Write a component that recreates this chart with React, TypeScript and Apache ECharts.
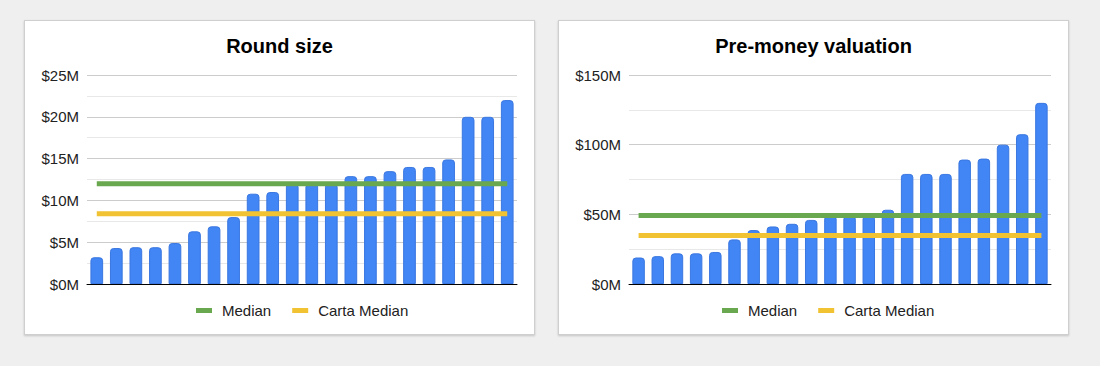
import React, { useEffect, useRef } from "react";
import * as echarts from "echarts";

const FONT = "Arial, 'Liberation Sans', Helvetica, sans-serif";

// Round size ($M), sorted ascending
const roundCategories = ["1","2","3","4","5","6","7","8","9","10","11","12","13","14","15","16","17","18","19","20","21","22"];
const roundSize = [3.2, 4.3, 4.4, 4.4, 4.9, 6.3, 6.9, 8.0, 10.8, 11.0, 12.0, 12.0, 12.0, 12.9, 12.9, 13.5, 14.0, 14.0, 14.9, 20, 20, 22];
const roundMedian = 12;
const roundCartaMedian = 8.4;

// Pre-money valuation ($M), sorted ascending
const preCategories = ["1","2","3","4","5","6","7","8","9","10","11","12","13","14","15","16","17","18","19","20","21","22"];
const preMoney = [19, 20, 22, 22, 23, 32, 38.7, 41.3, 43.2, 46, 49, 49, 49, 53.3, 79, 79, 79, 89.3, 90, 100, 107.5, 130];
const preMedian = 49.2;
const preCartaMedian = 34.8;

const legendNames = ["Median", "Carta Median"];

type Cfg = {
  title: string;
  categories: string[];
  values: number[];
  median: number;
  carta: number;
  max: number;
  interval: number;
  gridLeft: number;
  legendLeft: number;
};

function buildOption(c: Cfg): echarts.EChartsOption {
  return {
    animation: false,
    title: {
      text: c.title,
      left: "center",
      top: 15,
      padding: 0,
      textStyle: { fontFamily: FONT, fontSize: 20, fontWeight: "bold", color: "#000" },
    },
    legend: {
      data: legendNames,
      left: c.legendLeft,
      top: 282,
      padding: 0,
      icon: "rect",
      itemWidth: 16,
      itemHeight: 5,
      itemGap: 21,
      textStyle: { fontFamily: FONT, fontSize: 15, color: "#222", padding: [0, 0, 0, 5] },
    },
    grid: { left: c.gridLeft, right: 17, top: 54, bottom: 50 },
    xAxis: {
      type: "category",
      data: c.categories,
      boundaryGap: true,
      axisLine: { show: true, lineStyle: { color: "#000", width: 1 } },
      axisTick: { show: false },
      axisLabel: { show: false },
      splitLine: { show: false },
    },
    yAxis: {
      type: "value",
      min: 0,
      max: c.max,
      interval: c.interval,
      axisLine: { show: false },
      axisTick: { show: false },
      axisLabel: {
        fontFamily: FONT,
        fontSize: 15,
        color: "#222",
        margin: 8,
        formatter: (v: number) => "$" + v + "M",
      },
      splitLine: { show: true, lineStyle: { color: "#cccccc", width: 1 } },
      minorTick: { show: false, splitNumber: 2 },
      minorSplitLine: { show: true, lineStyle: { color: "#e8e8e8", width: 1 } },
    },
    series: [
      {
        type: "bar",
        name: "Value",
        data: c.values,
        barWidth: "65%",
        itemStyle: {
          color: "#4285f4",
          borderColor: "#3a77e0",
          borderWidth: 1,
          borderRadius: [3, 3, 0, 0],
        },
      },
      {
        type: "line",
        name: "Median",
        data: c.categories.map(() => c.median),
        symbol: "none",
        lineStyle: { color: "#6aa84f", width: 5 },
        itemStyle: { color: "#6aa84f" },
        z: 3,
      },
      {
        type: "line",
        name: "Carta Median",
        data: c.categories.map(() => c.carta),
        symbol: "none",
        lineStyle: { color: "#f1c232", width: 5 },
        itemStyle: { color: "#f1c232" },
        z: 3,
      },
    ],
  };
}

function ChartPanel({ cfg, left }: { cfg: Cfg; left: number }) {
  const ref = useRef<HTMLDivElement>(null);
  useEffect(() => {
    if (!ref.current) return;
    const chart = echarts.init(ref.current, undefined, { renderer: "svg" });
    chart.setOption(buildOption(cfg));
    return () => chart.dispose();
  }, []);
  return (
    <div
      style={{
        position: "absolute",
        left,
        top: 20,
        width: 511,
        height: 315,
        boxSizing: "border-box",
        border: "1px solid #cfcfcf",
        background: "#fff",
        boxShadow: "0 1px 2px rgba(0,0,0,0.18)",
      }}
    >
      <div ref={ref} style={{ width: 509, height: 313 }} />
    </div>
  );
}

export default function App() {
  const left: Cfg = {
    title: "Round size",
    categories: roundCategories,
    values: roundSize,
    median: roundMedian,
    carta: roundCartaMedian,
    max: 25,
    interval: 5,
    gridLeft: 62,
    legendLeft: 171,
  };
  const right: Cfg = {
    title: "Pre-money valuation",
    categories: preCategories,
    values: preMoney,
    median: preMedian,
    carta: preCartaMedian,
    max: 150,
    interval: 50,
    gridLeft: 70,
    legendLeft: 163,
  };
  return (
    <div
      style={{
        position: "fixed",
        left: 0,
        top: 0,
        width: 1100,
        height: 366,
        background: "#efefef",
        overflow: "hidden",
      }}
    >
      <ChartPanel cfg={left} left={24} />
      <ChartPanel cfg={right} left={558} />
    </div>
  );
}
